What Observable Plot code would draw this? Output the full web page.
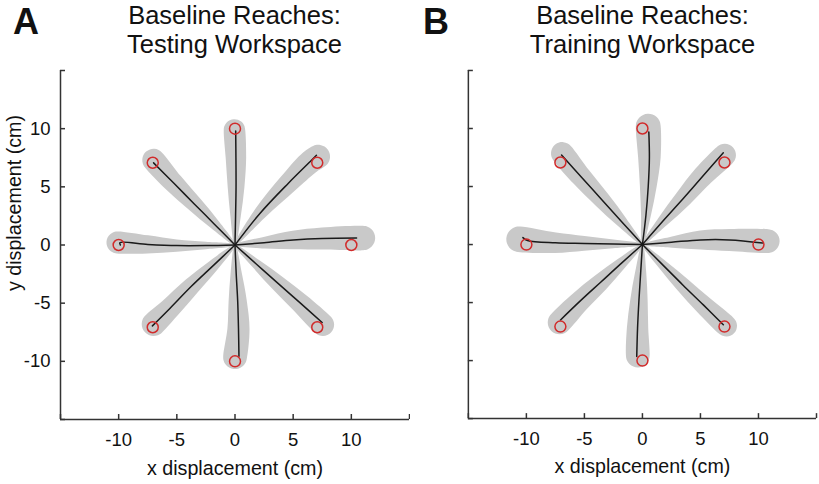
<!DOCTYPE html>
<html><head><meta charset="utf-8">
<script src="https://cdn.jsdelivr.net/npm/d3@7"></script>
<script src="https://cdn.jsdelivr.net/npm/@observablehq/plot@0.6"></script>
<style>
body{margin:0;background:#fff;font-family:"Liberation Sans",Arial,Helvetica,sans-serif;}
#wrap{position:relative;width:819px;height:484px;overflow:hidden;background:#fff;}
.title{position:absolute;top:1px;width:349px;text-align:center;font-size:25.5px;line-height:29px;color:#111;}
.letter{position:absolute;top:4px;font-size:36px;font-weight:bold;line-height:36px;color:#111;}
.panel{position:absolute;top:60px;}
</style></head><body>
<div id="wrap">
 <div class="letter" style="left:13px">A</div>
 <div class="title" style="left:60px">Baseline Reaches:<br>Testing Workspace</div>
 <div class="letter" style="left:423px">B</div>
 <div class="title" style="left:468px">Baseline Reaches:<br>Training Workspace</div>
 <div class="panel" id="pa" style="left:0"></div>
 <div class="panel" id="pb" style="left:410px"></div>
</div>
<script>
// Target locations (cm): right, up-right, up, up-left, left, down-left, down, down-right
const targets = [[10,0],[7.07,7.07],[0,10],[-7.07,7.07],[-10,0],[-7.07,-7.07],[0,-10],[7.07,-7.07]];
const axisTicks = [-15,-10,-5,0,5,10,15];
const tickLabels = [-10,-5,0,5,10];

// Panel A: mean hand paths (cm)
const testingPaths = [
  [[0,0],[2.5,0.2],[5,0.43],[7.5,0.56],[10.45,0.6]],
  [[0,0],[2.14,2.71],[4.57,5.29],[6.29,7.0],[7.0,7.71]],
  [[0,0],[0.05,2.5],[0.09,5],[0.08,7.5],[0.06,9.8]],
  [[0,0],[-1.75,1.77],[-3.5,3.53],[-5.25,5.3],[-7.0,7.06]],
  [[0,0],[-2.5,-0.05],[-5,-0.05],[-7.5,0.05],[-9.9,0.2],[-9.85,0.0]],
  [[0,0],[-1.85,-1.75],[-3.75,-3.55],[-5.6,-5.45],[-7.1,-6.95]],
  [[0,0],[0.1,-2.4],[0.23,-4.8],[0.3,-7.2],[0.34,-9.57]],
  [[0,0],[1.85,-1.65],[3.7,-3.3],[5.6,-4.98],[7.49,-6.66]]
];
// Panel A: variability band half-widths (cm) along the path
const testingWidths = [
  [0.05,0.5,0.8,0.95],
  [0.05,0.55,0.85,1.0],
  [0.05,0.45,0.72,0.88],
  [0.05,0.45,0.68,0.85],
  [0.05,0.32,0.52,0.78],
  [0.05,0.5,0.75,0.9],
  [0.05,0.48,0.78,0.95],
  [0.05,0.42,0.68,0.85]
];
// Panel A: end-point variability (x, y, radius in cm)
const testingCaps = [
  [11.0,0.6,1.05],[7.15,7.6,1.02],[-0.05,9.9,0.92],[-7.0,7.3,0.97],
  [-10.1,0.22,0.95],[-7.0,-6.8,1.02],[0,-9.65,1.02],[7.55,-6.85,0.97]
];

// Panel B: mean hand paths (cm)
const trainingPaths = [
  [[0,0],[2.5,0.2],[5,0.4],[7.5,0.4],[10.35,0.14]],
  [[0,0],[1.75,2.0],[3.5,3.95],[5.25,5.95],[6.97,7.9]],
  [[0,0],[0.3,2.5],[0.5,5],[0.6,7.5],[0.55,9.7]],
  [[0,0],[-1.75,1.93],[-3.5,3.86],[-5.25,5.8],[-6.97,7.71]],
  [[0,0],[-2.5,0.05],[-5,0.1],[-7.5,0.15],[-9.9,0.35],[-10.3,0.6]],
  [[0,0],[-1.8,-1.6],[-3.6,-3.25],[-5.4,-4.9],[-7.06,-6.5]],
  [[0,0],[-0.15,-2.4],[-0.3,-4.8],[-0.42,-7.2],[-0.49,-9.65]],
  [[0,0],[1.75,-1.75],[3.5,-3.5],[5.25,-5.2],[6.97,-6.91]]
];
const trainingWidths = [
  [0.05,0.48,0.82,0.95],
  [0.05,0.48,0.75,0.9],
  [0.05,0.42,0.72,0.97],
  [0.05,0.48,0.73,0.88],
  [0.05,0.38,0.63,0.88],
  [0.05,0.48,0.75,0.9],
  [0.05,0.48,0.75,0.92],
  [0.05,0.42,0.65,0.8]
];
const trainingCaps = [
  [10.8,0.3,1.02],[7.09,7.71,0.97],[0.5,10.2,1.07],[-6.91,7.86,0.97],
  [-10.63,0.45,1.1],[-7.14,-6.71,1.02],[-0.4,-9.57,1.02],[7.23,-7.0,0.92]
];

const FONT = '"Liberation Sans", Arial, Helvetica, sans-serif';

// Outline of a tapered band around a path, closed with a round end cap
function bandOutline(path, widths, cap, id) {
  const n = widths.length;
  const pts = path.slice(0, n);
  const left = [], right = [];
  for (let i = 0; i < n; i++) {
    const a = pts[Math.max(i - 1, 0)];
    const b = i === n - 1 ? [cap[0], cap[1]] : pts[i + 1];
    let tx = b[0] - a[0], ty = b[1] - a[1];
    const L = Math.hypot(tx, ty) || 1; tx /= L; ty /= L;
    left.push([pts[i][0] - ty * widths[i], pts[i][1] + tx * widths[i]]);
    right.push([pts[i][0] + ty * widths[i], pts[i][1] - tx * widths[i]]);
  }
  const last = pts[n - 1];
  const dir = Math.atan2(cap[1] - last[1], cap[0] - last[0]);
  const arc = d3.range(0, 9).map(k => {
    const t = dir + Math.PI / 2 - k * Math.PI / 8;
    return [cap[0] + cap[2] * Math.cos(t), cap[1] + cap[2] * Math.sin(t)];
  });
  return [...left, ...arc, ...right.reverse()].map(([x, y]) => ({id, x, y}));
}

function panel(paths, widths, caps, showY) {
  const bands = paths.flatMap((p, i) => bandOutline(p, widths[i], caps[i], i));
  const lines = paths.flatMap((p, i) => p.map(([x, y]) => ({id: i, x, y})));
  const innerW = 349, innerH = 349, tick = 5;
  const axisStyle = {stroke: "#333", strokeWidth: 1.5};
  const fmt = d => String(d);
  return Plot.plot({
    width: 410, height: 424,
    marginTop: 10, marginBottom: 65,
    marginLeft: showY ? 60 : 58, marginRight: showY ? 1 : 3,
    x: {domain: [-15, 15], axis: null},
    y: {domain: [-15, 15], axis: null},
    style: {fontFamily: FONT, fontSize: "18px", color: "#111", background: "white", overflow: "visible"},
    marks: [
      Plot.line(bands, {x: "x", y: "y", z: "id", fill: "#c9c9c9", stroke: "none", curve: "catmull-rom-closed"}),
      Plot.line(lines, {x: "x", y: "y", z: "id", stroke: "#1a1a1a", strokeWidth: 1.5, curve: "catmull-rom"}),
      Plot.dot(targets, {x: d => d[0], y: d => d[1], r: 5.5, stroke: "#d12b2b", strokeWidth: 1.5}),
      Plot.ruleY([-15], axisStyle),
      Plot.ruleX([-15], axisStyle),
      Plot.ruleX(axisTicks, {x: d => d, insetTop: innerH - tick, ...axisStyle}),
      Plot.ruleY(axisTicks, {y: d => d, insetRight: innerW - tick, ...axisStyle}),
      Plot.axisX({ticks: tickLabels, tickSize: 0, tickPadding: 13, label: null, fontSize: 18.5, tickFormat: fmt}),
      showY ? Plot.axisY({ticks: tickLabels, tickSize: 0, tickPadding: 10, label: null, fontSize: 18.5, tickFormat: fmt}) : null,
      Plot.text(["x displacement (cm)"], {frameAnchor: "bottom", textAnchor: "middle", lineAnchor: "bottom", dy: 55, fontSize: 19.7}),
      showY ? Plot.text(["y displacement (cm)"], {frameAnchor: "left", textAnchor: "middle", rotate: -90, lineAnchor: "bottom", dx: -40, dy: -42, fontSize: 19.7}) : null
    ]
  });
}

document.getElementById("pa").append(panel(testingPaths, testingWidths, testingCaps, true));
document.getElementById("pb").append(panel(trainingPaths, trainingWidths, trainingCaps, false));
</script>
</body></html>
